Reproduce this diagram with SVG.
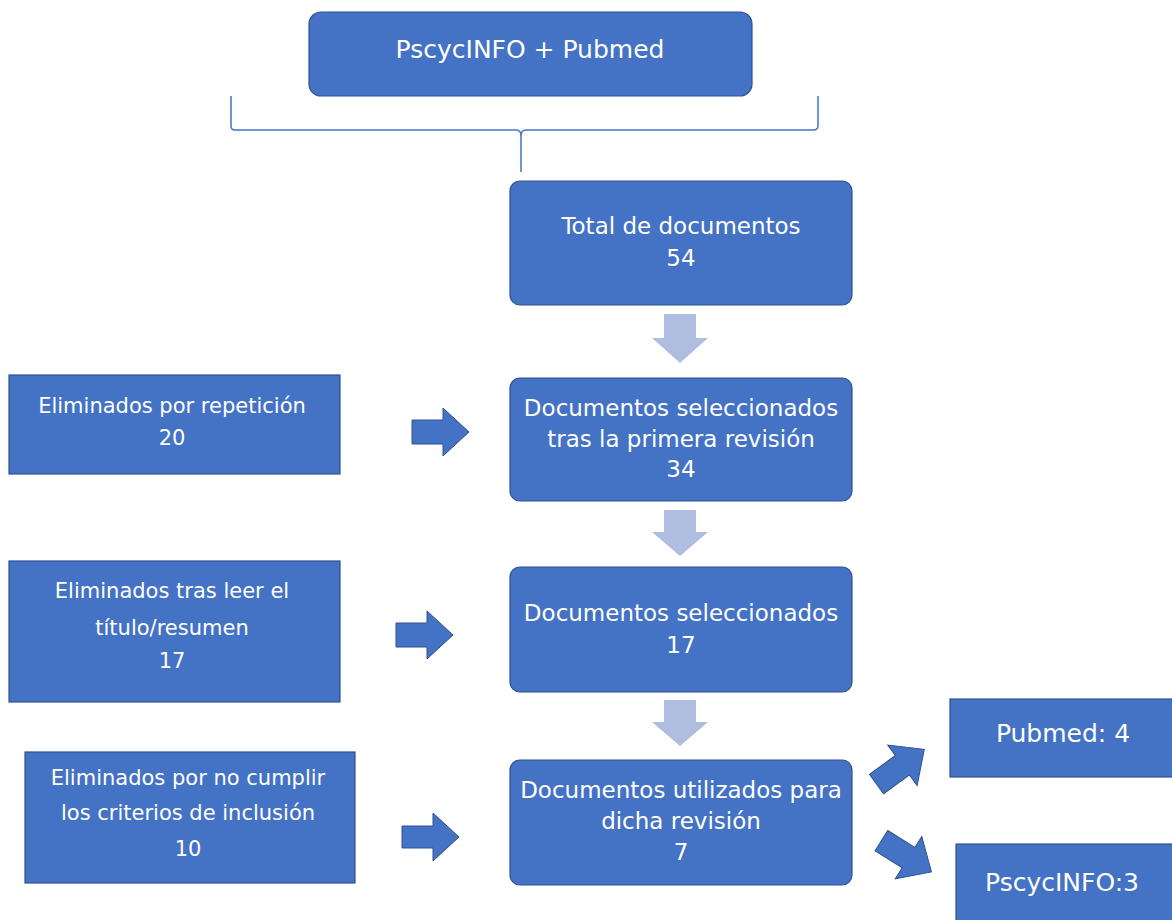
<svg xmlns="http://www.w3.org/2000/svg" width="1172" height="920" viewBox="0 0 1172 920">
<style>
.box{fill:#4472C4;stroke:#2F528F;stroke-width:1.2}
.t{fill:#fff;font-family:"DejaVu Sans","Liberation Sans",sans-serif;font-size:23px;text-anchor:middle}
.ts{fill:#fff;font-family:"DejaVu Sans","Liberation Sans",sans-serif;font-size:21px;text-anchor:middle}
.tl{fill:#fff;font-family:"DejaVu Sans","Liberation Sans",sans-serif;font-size:25px;text-anchor:middle}
.la{fill:#AFBEE0}
.ba{fill:#4472C4;stroke:#2F528F;stroke-width:1}
.br{fill:none;stroke:#4472C4;stroke-width:1.5}
</style>
<rect width="1172" height="920" fill="#fff"/>
<g id="connectors">
<path class="br" d="M231 96 V126 Q231 130 235 130 H516 Q521 130 521 136 V172 M521 136 Q521 130 526 130 H813 Q818 130 818 126 V96"/>
<polygon class="la" points="664,314 696,314 696,338 708,338 680,363 652,338 664,338"/>
<polygon class="la" points="664,510 696,510 696,532 708,532 680,556 652,532 664,532"/>
<polygon class="la" points="664,700 696,700 696,722 708,722 680,746 652,722 664,722"/>
<polygon class="ba" points="412,420 443,420 443,408 469,432 443,456 443,444 412,444"/>
<polygon class="ba" points="396,623 427,623 427,611 453,635 427,659 427,647 396,647"/>
<polygon class="ba" points="402,826 433,826 433,813 459,837 433,861 433,848 402,848"/>
<polygon class="ba" transform="translate(900,767) rotate(-36)" points="-29,-12 3,-12 3,-25 30,0 3,25 3,12 -29,12"/>
<polygon class="ba" transform="translate(906,856) rotate(32)" points="-29,-12 3,-12 3,-25 30,0 3,25 3,12 -29,12"/>
</g>
<g id="n-top"><rect class="box" x="309" y="12" width="443" height="84" rx="12"/><text class="tl" x="530" y="58">PscycINFO + Pubmed</text></g>
<g id="n-total"><rect class="box" x="510" y="181" width="342" height="124" rx="10"/><text class="t" x="681" y="234">Total de documentos</text><text class="t" x="681" y="266">54</text></g>
<g id="n-sel1"><rect class="box" x="510" y="378" width="342" height="123" rx="10"/><text class="t" x="681" y="416">Documentos seleccionados</text><text class="t" x="681" y="447">tras la primera revisión</text><text class="t" x="681" y="477">34</text></g>
<g id="n-sel2"><rect class="box" x="510" y="567" width="342" height="125" rx="10"/><text class="t" x="681" y="621">Documentos seleccionados</text><text class="t" x="681" y="653">17</text></g>
<g id="n-used"><rect class="box" x="510" y="760" width="342" height="125" rx="10"/><text class="t" x="681" y="798">Documentos utilizados para</text><text class="t" x="681" y="829">dicha revisión</text><text class="t" x="681" y="860">7</text></g>
<g id="n-elim1"><rect class="box" x="9" y="375" width="331" height="99"/><text class="ts" x="172" y="413">Eliminados por repetición</text><text class="ts" x="172" y="445">20</text></g>
<g id="n-elim2"><rect class="box" x="9" y="561" width="331" height="141"/><text class="ts" x="172" y="598">Eliminados tras leer el</text><text class="ts" x="172" y="635">título/resumen</text><text class="ts" x="172" y="668">17</text></g>
<g id="n-elim3"><rect class="box" x="25" y="752" width="330" height="131"/><text class="ts" x="188" y="785">Eliminados por no cumplir</text><text class="ts" x="188" y="820">los criterios de inclusión</text><text class="ts" x="188" y="856">10</text></g>
<g id="n-pubmed"><rect class="box" x="950" y="699" width="230" height="78"/><text class="tl" x="1063" y="742">Pubmed: 4</text></g>
<g id="n-psyc"><rect class="box" x="956" y="844" width="230" height="80"/><text class="tl" x="1062" y="891">PscycINFO:3</text></g>
</svg>
